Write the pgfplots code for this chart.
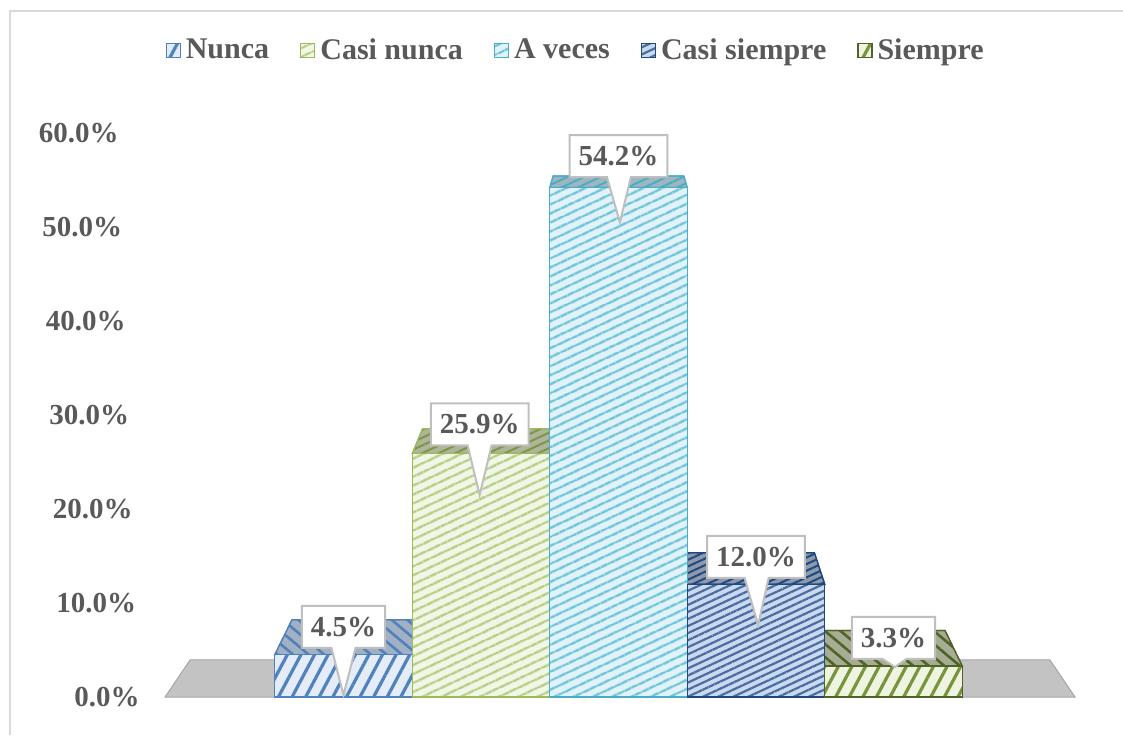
\documentclass[border=0pt]{standalone}
\usepackage{fontspec}
\setmainfont{Liberation Serif}
\usepackage{pgfplots}
\pgfplotsset{compat=1.18}
\usetikzlibrary{patterns.meta, shapes.callouts}

\definecolor{txt}{HTML}{595959}
\definecolor{framec}{HTML}{D9D9D9}
\definecolor{floorc}{HTML}{C3C3C3}
\definecolor{floord}{HTML}{A6A6A6}
% line colours
\definecolor{lA}{HTML}{4F81BD}
\definecolor{lB}{HTML}{9BBB59}
\definecolor{lC}{HTML}{4BACC6}
\definecolor{lD}{HTML}{1F497D}
\definecolor{lE}{HTML}{4F6228}
% stripe colours
\definecolor{sA}{HTML}{4F81BD}
\definecolor{sB}{HTML}{B5CE84}
\definecolor{sC}{HTML}{6CC3DA}
\definecolor{sD}{HTML}{4A6C9E}
\definecolor{sE}{HTML}{77933C}
% front backgrounds
\definecolor{bA}{HTML}{E4ECF7}
\definecolor{bB}{HTML}{F1F6E6}
\definecolor{bC}{HTML}{E1F3F8}
\definecolor{bD}{HTML}{C9DAF0}
\definecolor{bE}{HTML}{EEF4E0}
% top backgrounds
\definecolor{tA}{HTML}{A2B0C4}
\definecolor{tB}{HTML}{AEB59A}
\definecolor{tC}{HTML}{9FB6BE}
\definecolor{tD}{HTML}{8D9AAE}
\definecolor{tE}{HTML}{A7AD92}

\pgfplotsset{
  sqlegend/.style={legend image code/.code={\draw[##1,line width=0.6pt] (0pt,-3.5pt) rectangle (7pt,3.5pt);}},
  mybar/.style={ybar, bar width=1, bar shift=0pt, line width=0.7pt, sqlegend},
}
\tikzset{
  callbox/.style={rectangle callout, draw=black!25, line width=1pt, fill=white,
    font=\bfseries\fontsize{14.5}{16}\selectfont, text=txt,
    inner xsep=4.5pt, inner ysep=0pt, minimum height=21pt, callout pointer width=12pt},
}

\begin{document}
\begin{tikzpicture}[x=1pt,y=1pt]
\useasboundingbox (0,0) rectangle (561.5,367.5);
\draw[color=framec, line width=0.8pt] (5,0) -- (5,362) -- (561.5,362);
\begin{axis}[
  at={(68.625pt,19pt)}, anchor=south west,
  scale only axis, width=481.25pt, height=282pt,
  xmin=-1.5, xmax=5.5, ymin=0, ymax=60,
  axis line style={draw=none},
  xtick=\empty,
  ytick={0,10,...,60},
  yticklabels={0.0\%,10.0\%,20.0\%,30.0\%,40.0\%,50.0\%,60.0\%},
  major tick length=0pt,
  yticklabel style={anchor=east, inner sep=0pt, text=txt,
    font=\bfseries\fontsize{14.5}{16}\selectfont, xshift=1.4pt-\ticknum*1.75pt},
  clip=false,
  legend columns=5,
  legend style={at={(0.457,1.147)}, anchor=center, draw=none, fill=none,
    font=\bfseries\fontsize{15}{17}\selectfont, text=txt,
    /tikz/every even column/.append style={column sep=13pt},
    nodes={inner xsep=2.5pt}},
]
% floor
\addplot[fill=floorc, draw=floord, line width=0.5pt, forget plot]
  coordinates {(-1.298,0) (5.32,0) (5.138,3.94) (-1.116,3.94)} -- cycle;

% top faces
\addplot[fill=tA, draw=lA, line width=0.6pt, forget plot,
  postaction={pattern={Lines[angle=-40,distance=5pt,line width=1.3pt]}, pattern color=lA}]
  coordinates {(-0.5,4.5) (0.5,4.5) (0.575,8.21) (-0.375,8.21)} -- cycle;
\addplot[fill=tB, draw=lB, line width=0.6pt, forget plot,
  postaction={pattern={Lines[angle=25,distance=3.5pt,line width=1pt]}, pattern color=lB!80!black}]
  coordinates {(0.5,25.9) (1.5,25.9) (1.525,28.54) (0.575,28.54)} -- cycle;
\addplot[fill=tC, draw=lC, line width=0.6pt, forget plot,
  postaction={pattern={Lines[angle=25,distance=3.5pt,line width=1pt]}, pattern color=lC}]
  coordinates {(1.5,54.2) (2.5,54.2) (2.475,55.43) (1.525,55.43)} -- cycle;
\addplot[fill=tD, draw=lD, line width=0.6pt, forget plot,
  postaction={pattern={Lines[angle=25,distance=3pt,line width=1pt]}, pattern color=lD}]
  coordinates {(2.5,12.0) (3.5,12.0) (3.425,15.34) (2.475,15.34)} -- cycle;
\addplot[fill=tE, draw=lE, line width=0.6pt, forget plot,
  postaction={pattern={Lines[angle=-40,distance=5pt,line width=1.3pt]}, pattern color=lE}]
  coordinates {(3.5,3.3) (4.5,3.3) (4.375,7.07) (3.425,7.07)} -- cycle;

% front faces
\addplot[mybar, fill=bA, draw=lA,
  postaction={pattern={Lines[angle=62,distance=6pt,line width=1.6pt]}, pattern color=sA}]
  coordinates {(0,4.5)};
\addlegendentry{Nunca}
\addplot[mybar, fill=bB, draw=lB,
  postaction={pattern={Lines[angle=25,distance=4pt,line width=1.3pt]}, pattern color=sB}]
  coordinates {(1,25.9)};
\addlegendentry{Casi nunca}
\addplot[mybar, fill=bC, draw=lC,
  postaction={pattern={Lines[angle=25,distance=4pt,line width=1.3pt]}, pattern color=sC}]
  coordinates {(2,54.2)};
\addlegendentry{A veces}
\addplot[mybar, fill=bD, draw=lD,
  postaction={pattern={Lines[angle=25,distance=3.2pt,line width=1.1pt]}, pattern color=sD}]
  coordinates {(3,12.0)};
\addlegendentry{Casi siempre}
\addplot[mybar, fill=bE, draw=lE,
  postaction={pattern={Lines[angle=62,distance=6pt,line width=1.6pt]}, pattern color=sE}]
  coordinates {(4,3.3)};
\addlegendentry{Siempre}

% data labels (callouts)
\node[callbox, callout absolute pointer={(axis cs:0,0.2)}] at (axis cs:0,7.45) {4.5\%};
\node[callbox, callout absolute pointer={(axis cs:0.99,21.5)}] at (axis cs:0.99,29.0) {25.9\%};
\node[callbox, callout absolute pointer={(axis cs:2.01,50.5)}] at (axis cs:2.0,57.55) {54.2\%};
\node[callbox, callout absolute pointer={(axis cs:3.015,7.66)}] at (axis cs:3.0,14.9) {12.0\%};
\node[callbox, callout absolute pointer={(axis cs:4.01,3.19)}] at (axis cs:4.0,6.28) {3.3\%};
\end{axis}
\end{tikzpicture}
\end{document}
